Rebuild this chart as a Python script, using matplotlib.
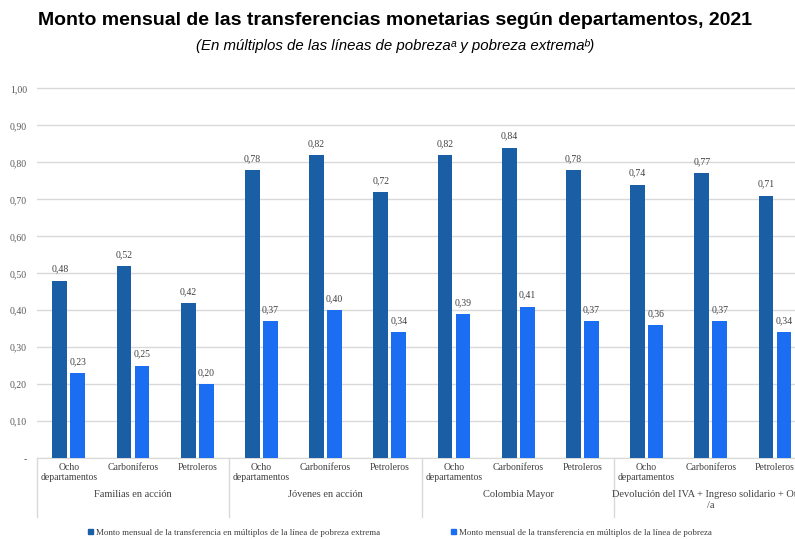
import matplotlib as mpl
mpl.use('Agg')
import matplotlib.pyplot as plt
from matplotlib.patches import Patch
from matplotlib.transforms import blended_transform_factory
import numpy as np

programas = ['Familias en acción', 'Jóvenes en acción', 'Colombia Mayor',
             'Devolución del IVA + Ingreso solidario + Otros\n/a']
categorias = ['Ocho\ndepartamentos', 'Carboníferos', 'Petroleros'] * 4
extrema = [0.48, 0.52, 0.42, 0.78, 0.82, 0.72, 0.82, 0.84, 0.78, 0.74, 0.77, 0.71]
pobreza = [0.23, 0.25, 0.20, 0.37, 0.40, 0.34, 0.39, 0.41, 0.37, 0.36, 0.37, 0.34]
yticks = [0.0, 0.1, 0.2, 0.3, 0.4, 0.5, 0.6, 0.7, 0.8, 0.9, 1.0]
ylabels = ['-', '0,10', '0,20', '0,30', '0,40', '0,50', '0,60', '0,70', '0,80', '0,90', '1,00']

c_dark = '#1a5fa6'
c_light = '#1b6ef2'
serif = ['Liberation Serif', 'DejaVu Serif']
sans = ['Liberation Sans', 'DejaVu Sans']

fig = plt.figure(figsize=(7.95, 5.39), dpi=100)
ax = fig.add_axes([0.0462, 0.150, 0.969, 0.688])

x = np.arange(len(extrema))
w = 0.23
b1 = ax.bar(x - 0.14, extrema, w, color=c_dark, zorder=3)
b2 = ax.bar(x + 0.14, pobreza, w, color=c_light, zorder=3)

for bars, vals in ((b1, extrema), (b2, pobreza)):
    for r, v in zip(bars, vals):
        ax.annotate(f'{v:.2f}'.replace('.', ','), (r.get_x() + r.get_width() / 2, v),
                    xytext=(0, 5), textcoords='offset points', ha='center', va='bottom',
                    fontsize=7, family=serif, color='#404040')

ax.set_xlim(-0.5, len(extrema) - 0.5)
ax.set_ylim(0, 1.003)
ax.set_yticks(yticks)
ax.set_yticklabels(ylabels, family=serif, fontsize=7, color='#595959')
ax.tick_params(axis='y', length=0, pad=7)
ax.set_xticks([])
ax.yaxis.grid(True, color='#d9d9d9', lw=1, zorder=0)
for s in ['top', 'right', 'left']:
    ax.spines[s].set_visible(False)
ax.spines['bottom'].set_color('#d9d9d9')

trans = blended_transform_factory(ax.transData, ax.transAxes)
for xs in [-0.5, 2.5, 5.5, 8.5, 11.5]:
    ax.plot([xs, xs], [0, -0.16], transform=trans, color='#d9d9d9', lw=1, clip_on=False)
for xi, cat in zip(x, categorias):
    ax.text(xi, -0.014, cat, transform=trans, ha='center', va='top', fontsize=7,
            family=serif, color='#404040', linespacing=1.15)
for i, prog in enumerate(programas):
    ax.text(3 * i + 1, -0.085, prog, transform=trans, ha='center', va='top', fontsize=7.5,
            family=serif, color='#404040', linespacing=1.3)

handles = [Patch(color=c_dark), Patch(color=c_light)]
labels = ['Monto mensual de la transferencia en múltiplos de la línea de pobreza extrema',
          'Monto mensual de la transferencia en múltiplos de la línea de pobreza']
fig.legend(handles, labels, loc='center', bbox_to_anchor=(0.503, 0.012), ncol=2, frameon=False,
           prop={'family': serif, 'size': 6.5}, handlelength=0.6, handleheight=0.6,
           handletextpad=0.3, columnspacing=7.8, labelcolor='#404040')

fig.text(0.497, 0.962, 'Monto mensual de las transferencias monetarias según departamentos, 2021',
         ha='center', va='center', fontsize=14, fontweight='bold', family=sans)
fig.text(0.497, 0.915, '(En múltiplos de las líneas de pobrezaᵃ y pobreza extremaᵇ)',
         ha='center', va='center', fontsize=10.8, style='italic', family=sans)

plt.savefig('out.png')
